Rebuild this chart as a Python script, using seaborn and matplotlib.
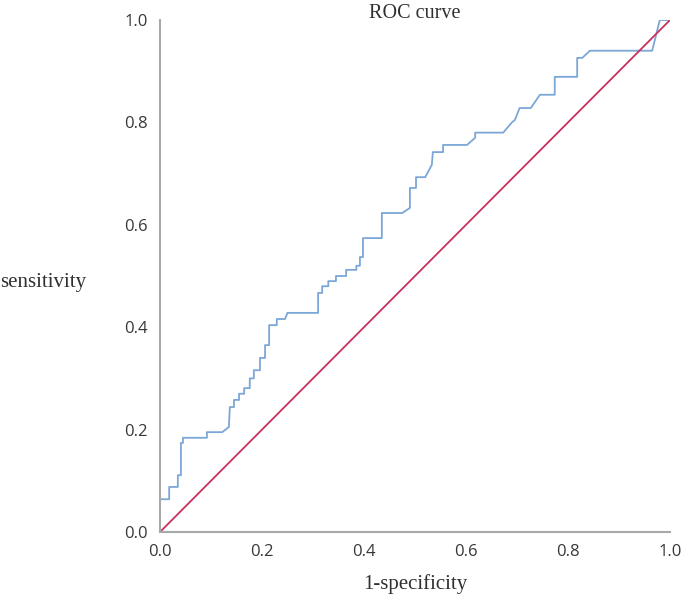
#%% imports
import numpy as np
import pandas as pd
import matplotlib
matplotlib.use("Agg")
import matplotlib.pyplot as plt
import seaborn as sns

#%% data (1-specificity, sensitivity)
fpr = [0.0, 0.0, 0.018, 0.018, 0.035, 0.035, 0.041, 0.041, 0.045, 0.045,
       0.092, 0.092, 0.122, 0.135, 0.137, 0.145, 0.145, 0.155, 0.155, 0.165,
       0.165, 0.176, 0.176, 0.184, 0.184, 0.196, 0.196, 0.206, 0.206, 0.214,
       0.214, 0.229, 0.229, 0.245, 0.25, 0.310, 0.310, 0.318, 0.318, 0.33,
       0.33, 0.345, 0.345, 0.365, 0.365, 0.385, 0.385, 0.392, 0.392, 0.398,
       0.398, 0.435, 0.435, 0.475, 0.49, 0.49, 0.502, 0.502, 0.52, 0.533,
       0.535, 0.555, 0.555, 0.602, 0.618, 0.618, 0.673, 0.69, 0.696, 0.705,
       0.727, 0.745, 0.774, 0.774, 0.818, 0.818, 0.828, 0.843, 0.965, 0.98, 1.0]
tpr = [0.0, 0.064, 0.064, 0.088, 0.088, 0.111, 0.111, 0.174, 0.174, 0.184,
       0.184, 0.195, 0.195, 0.205, 0.244, 0.244, 0.258, 0.258, 0.270, 0.270,
       0.281, 0.281, 0.300, 0.300, 0.316, 0.316, 0.340, 0.340, 0.365, 0.365,
       0.404, 0.404, 0.416, 0.416, 0.428, 0.428, 0.467, 0.467, 0.480, 0.480,
       0.490, 0.490, 0.500, 0.500, 0.512, 0.512, 0.520, 0.520, 0.537, 0.537,
       0.574, 0.574, 0.623, 0.623, 0.633, 0.672, 0.672, 0.693, 0.693, 0.717,
       0.742, 0.742, 0.756, 0.756, 0.770, 0.780, 0.780, 0.800, 0.805, 0.828,
       0.828, 0.854, 0.854, 0.889, 0.889, 0.926, 0.926, 0.940, 0.940, 1.0, 1.0]

ref_x = [0.0, 1.0]
ref_y = [0.0, 1.0]

ticks = [0.0, 0.2, 0.4, 0.6, 0.8, 1.0]
tick_labels = ["0.0", "0.2", "0.4", "0.6", "0.8", "1.0"]

roc = pd.DataFrame({"fpr": fpr, "tpr": tpr})
ref = pd.DataFrame({"fpr": ref_x, "tpr": ref_y})

#%% plot
sns.set_style("white")

fig = plt.figure(figsize=(6.85, 6.05), dpi=100)
ax = fig.add_axes([160 / 685, 73 / 605, 510 / 685, 512 / 605])

sns.lineplot(data=roc, x="fpr", y="tpr", sort=False, estimator=None,
             color="#7ba7d8", linewidth=1.3, ax=ax)
sns.lineplot(data=ref, x="fpr", y="tpr", sort=False, estimator=None,
             color="#c9305c", linewidth=1.3, ax=ax)

ax.set_xlim(0, 1.0)
ax.set_ylim(0, 1.0)
ax.set_xticks(ticks)
ax.set_yticks(ticks)
ax.set_xticklabels(tick_labels, fontsize=12, color="#383838", family="Open Sans")
ax.set_yticklabels(tick_labels, fontsize=12, color="#383838", family="Open Sans")
ax.tick_params(length=0, pad=9)

sns.despine(ax=ax)
for s in ["left", "bottom"]:
    ax.spines[s].set_color("#a8a8a8")
    ax.spines[s].set_linewidth(1.5)

serif = "Liberation Serif"
ax.set_xlabel("1-specificity", fontsize=15, family=serif, color="#303030", labelpad=10)
ax.set_ylabel("")
fig.text(0.0, (605 - 283) / 605, "sensitivity", fontsize=15,
         family=serif, color="#303030", ha="left", va="center")
fig.text(415 / 685, (605 - 13) / 605, "ROC curve", fontsize=14.5, family=serif,
         color="#303030", ha="center", va="center")

fig.savefig("out.png", dpi=100)
